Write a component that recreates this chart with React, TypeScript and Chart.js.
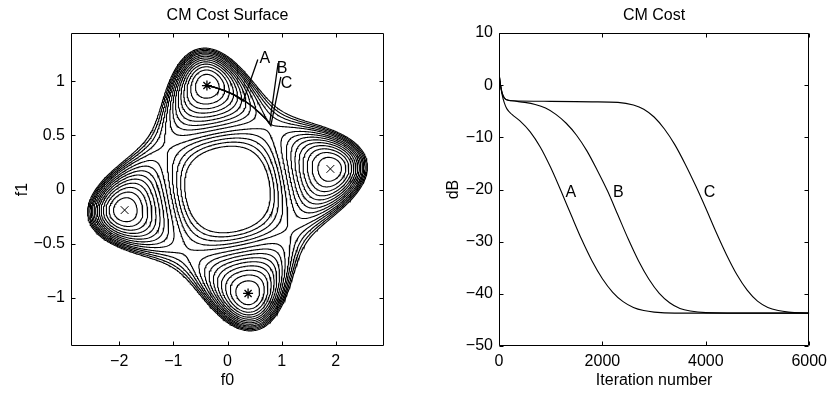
import React, { useEffect, useRef } from 'react';
import { Chart, registerables } from 'chart.js';

Chart.register(...registerables);
Chart.defaults.font.family = '"Liberation Sans", Arial, Helvetica, sans-serif';
Chart.defaults.font.size = 16;
Chart.defaults.color = '#000';

// ---------------- Left panel: CM cost surface ----------------
// minima of the surface (each also appears mirrored through the origin)
const starMinimum = [-0.38, 0.96]; // global minima, marked "*"
const crossMinimum = [1.9, 0.19]; // local minima, marked "x"
const contourLevels = [0.05, 0.1, 0.15, 0.2, 0.25, 0.3, 0.35, 0.4, 0.45, 0.505, 0.55, 0.6, 0.65, 0.7];
const f0Range = [-2.89, 2.89];
const f1Range = [-1.445, 1.445];
const f0Ticks = [-2, -1, 0, 1, 2];
const f1Ticks = [-1, -0.5, 0, 0.5, 1];

// adaptation trajectories (f0, f1)
const trajA_f0 = [0.56, 0.29, 0.116, -0.07, -0.25, -0.38];
const trajA_f1 = [1.2, 0.815, 0.876, 0.916, 0.946, 0.96];
const trajB_f0 = [0.935, 0.78, 0.72, 0.61, 0.456, 0.3, 0.116, -0.07, -0.25, -0.38];
const trajB_f1 = [1.168, 0.615, 0.645, 0.7, 0.769, 0.824, 0.876, 0.916, 0.946, 0.96];
const trajC_f0 = [0.985, 0.8, 0.72, 0.61, 0.456, 0.3, 0.116, -0.07, -0.25, -0.38];
const trajC_f1 = [1.04, 0.59, 0.645, 0.7, 0.769, 0.824, 0.876, 0.916, 0.946, 0.96];

const labelNames = ['A', 'B', 'C'];
const leftLabelF0 = [0.69, 1.01, 1.09];
const leftLabelF1 = [1.21, 1.12, 0.98];

// ---------------- Right panel: CM cost vs iteration ----------------
const iterA = [0, 25, 60, 100, 150, 250, 400, 600, 800, 1000, 1200, 1400, 1600, 1800, 2000, 2200, 2400, 2600, 2800, 3000, 3400, 4000, 5000, 6000];
const costA = [2.3, 0.3, -1.8, -3.3, -4.5, -5.6, -6.8, -8.9, -11.9, -15.8, -20.3, -25.0, -29.6, -33.7, -37.1, -39.7, -41.5, -42.6, -43.2, -43.5, -43.7, -43.7, -43.7, -43.7];
const iterB = [0, 25, 60, 100, 150, 250, 500, 700, 900, 1100, 1300, 1500, 1700, 1900, 2100, 2300, 2500, 2700, 2900, 3100, 3300, 3500, 3700, 4000, 5000, 6000];
const costB = [2.3, 0.3, -1.5, -2.4, -2.8, -3.0, -3.3, -3.7, -4.4, -5.6, -7.3, -9.6, -12.6, -16.3, -20.3, -24.9, -29.5, -33.7, -37.2, -39.9, -41.7, -42.8, -43.3, -43.6, -43.7, -43.7];
const iterC = [0, 25, 60, 100, 150, 250, 1000, 1800, 2300, 2600, 2800, 3000, 3200, 3400, 3600, 3800, 4000, 4200, 4400, 4600, 4800, 5000, 5200, 5400, 5600, 6000];
const costC = [2.3, 0.3, -1.5, -2.4, -2.8, -3.0, -3.1, -3.2, -3.3, -3.8, -4.6, -6.1, -8.4, -11.4, -15.1, -19.2, -23.6, -28.2, -32.5, -36.3, -39.3, -41.4, -42.6, -43.2, -43.5, -43.7];
const iterTicks = [0, 2000, 4000, 6000];
const dbTicks = [-50, -40, -30, -20, -10, 0, 10];
const rightLabelIter = [1390, 2310, 4070];
const rightLabelDb = [-20.5, -20.5, -20.5];

type Pt = { x: number; y: number };

const GRID_NX = 360;
const GRID_NY = 180;

// Constant-modulus cost (BPSK source) in the combined-response coordinates
function cmCost(f0: number, f1: number): number {
  const a = crossMinimum[0], b = starMinimum[0], c = crossMinimum[1], d = starMinimum[1];
  const det = a * d - b * c;
  const h0 = (d * f0 - b * f1) / det;
  const h1 = (-c * f0 + a * f1) / det;
  const s = h0 * h0 + h1 * h1;
  return 3 * s * s - 2 * (h0 ** 4 + h1 ** 4) - 2 * s + 1;
}

function buildGrid() {
  const xs: number[] = [];
  const ys: number[] = [];
  for (let i = 0; i <= GRID_NX; i++) xs.push(f0Range[0] + (i * (f0Range[1] - f0Range[0])) / GRID_NX);
  for (let j = 0; j <= GRID_NY; j++) ys.push(f1Range[0] + (j * (f1Range[1] - f1Range[0])) / GRID_NY);
  const values = new Float64Array((GRID_NX + 1) * (GRID_NY + 1));
  for (let j = 0; j <= GRID_NY; j++)
    for (let i = 0; i <= GRID_NX; i++) values[j * (GRID_NX + 1) + i] = cmCost(xs[i], ys[j]);
  return { xs, ys, values };
}

function traceContours(level: number, xs: number[], ys: number[], values: Float64Array): Pt[][] {
  const NX = GRID_NX, NY = GRID_NY, W = NX + 1;
  const val = (i: number, j: number) => values[j * W + i];
  const vBase = (NY + 1) * NX;
  const adj = new Map<number, number[]>();
  const pos = new Map<number, Pt>();
  const edgePt = (id: number): Pt => {
    const got = pos.get(id);
    if (got) return got;
    let x: number, y: number;
    if (id < vBase) {
      const j = Math.floor(id / NX), i = id % NX;
      const a = val(i, j), b = val(i + 1, j);
      const t = (level - a) / (b - a);
      x = xs[i] + t * (xs[i + 1] - xs[i]);
      y = ys[j];
    } else {
      const k = id - vBase;
      const j = Math.floor(k / W), i = k % W;
      const a = val(i, j), b = val(i, j + 1);
      const t = (level - a) / (b - a);
      x = xs[i];
      y = ys[j] + t * (ys[j + 1] - ys[j]);
    }
    const p = { x, y };
    pos.set(id, p);
    return p;
  };
  const add = (a: number, b: number) => {
    let l = adj.get(a);
    if (!l) { l = []; adj.set(a, l); }
    l.push(b);
  };
  const link = (a: number, b: number) => { add(a, b); add(b, a); };
  for (let j = 0; j < NY; j++) {
    for (let i = 0; i < NX; i++) {
      const v0 = val(i, j), v1 = val(i + 1, j), v2 = val(i + 1, j + 1), v3 = val(i, j + 1);
      const c = (v0 > level ? 1 : 0) | (v1 > level ? 2 : 0) | (v2 > level ? 4 : 0) | (v3 > level ? 8 : 0);
      if (c === 0 || c === 15) continue;
      const B = j * NX + i, T = (j + 1) * NX + i, L = vBase + j * W + i, R = vBase + j * W + i + 1;
      if (c === 5 || c === 10) {
        const above = (v0 + v1 + v2 + v3) / 4 > level;
        if ((c === 5) === above) { link(B, R); link(L, T); } else { link(B, L); link(R, T); }
        continue;
      }
      const b0 = c & 1, b1 = (c >> 1) & 1, b2 = (c >> 2) & 1, b3 = (c >> 3) & 1;
      const e: number[] = [];
      if (b0 !== b1) e.push(B);
      if (b1 !== b2) e.push(R);
      if (b2 !== b3) e.push(T);
      if (b3 !== b0) e.push(L);
      if (e.length === 2) link(e[0], e[1]);
    }
  }
  const visited = new Set<number>();
  const lines: Pt[][] = [];
  const walk = (start: number) => {
    const line: Pt[] = [];
    let prev = -1, cur = start, last = start;
    while (cur !== -1 && !visited.has(cur)) {
      visited.add(cur);
      line.push(edgePt(cur));
      last = cur;
      let next = -1;
      for (const n of adj.get(cur)!) if (n !== prev && !visited.has(n)) { next = n; break; }
      prev = cur;
      cur = next;
    }
    if (line.length > 2 && adj.get(last)!.includes(start)) line.push(line[0]);
    if (line.length > 1) lines.push(line);
  };
  adj.forEach((nb, id) => { if (nb.length === 1 && !visited.has(id)) walk(id); });
  adj.forEach((_nb, id) => { if (!visited.has(id)) walk(id); });
  return lines;
}

const fmt = (v: number | string) => {
  const n = Number(v);
  return n < 0 ? '\u2212' + String(Math.abs(n)) : String(n);
};

const framePlugin = {
  id: 'frameTicks',
  afterDatasetsDraw(chart: any) {
    const { ctx, chartArea, scales } = chart;
    const l = Math.round(chartArea.left) + 0.5;
    const r = Math.round(chartArea.right) - 0.5;
    const t = Math.round(chartArea.top) + 0.5;
    const b = Math.round(chartArea.bottom) - 0.5;
    const len = 4;
    ctx.save();
    ctx.strokeStyle = '#000';
    ctx.lineWidth = 1;
    ctx.beginPath();
    ctx.rect(l, t, r - l, b - t);
    scales.x.ticks.forEach((tk: any) => {
      const px = Math.round(scales.x.getPixelForValue(tk.value)) + 0.5;
      ctx.moveTo(px, b); ctx.lineTo(px, b - len);
      ctx.moveTo(px, t); ctx.lineTo(px, t + len);
    });
    scales.y.ticks.forEach((tk: any) => {
      const py = Math.round(scales.y.getPixelForValue(tk.value)) + 0.5;
      ctx.moveTo(l, py); ctx.lineTo(l + len, py);
      ctx.moveTo(r, py); ctx.lineTo(r - len, py);
    });
    ctx.stroke();
    ctx.restore();
  },
};

function labelsPlugin(xs: number[], ys: number[]) {
  return {
    id: 'curveLabels',
    afterDatasetsDraw(chart: any) {
      const { ctx, scales } = chart;
      ctx.save();
      ctx.fillStyle = '#000';
      ctx.font = '16px "Liberation Sans", Arial, Helvetica, sans-serif';
      ctx.textAlign = 'center';
      ctx.textBaseline = 'middle';
      labelNames.forEach((name, i) => {
        ctx.fillText(name, scales.x.getPixelForValue(xs[i]), scales.y.getPixelForValue(ys[i]));
      });
      ctx.restore();
    },
  };
}

function axisCommon(ticksArr: number[], size: { w?: number; h?: number }, title: string, titlePad: any) {
  return {
    type: 'linear' as const,
    afterBuildTicks: (ax: any) => { ax.ticks = ticksArr.map((v) => ({ value: v })); },
    afterFit: (ax: any) => {
      if (size.w !== undefined) ax.width = size.w;
      if (size.h !== undefined) ax.height = size.h;
    },
    ticks: { padding: 6, autoSkip: false, maxRotation: 0, minRotation: 0, callback: (v: any) => fmt(v), color: '#000' },
    grid: { display: false, drawTicks: false },
    border: { display: false },
    title: { display: true, text: title, padding: titlePad, color: '#000', font: { size: 16 } },
  };
}

const toPts = (xs: number[], ys: number[]) => xs.map((x, i) => ({ x, y: ys[i] }));

function leftConfig(): any {
  const { xs, ys, values } = buildGrid();
  const contourSets: any[] = [];
  contourLevels.forEach((lev) => {
    traceContours(lev, xs, ys, values).forEach((line) => {
      contourSets.push({
        data: line,
        showLine: true,
        borderColor: '#000',
        borderWidth: 1.1,
        pointRadius: 0,
        tension: 0,
        fill: false,
      });
    });
  });
  const trajSets = [
    toPts(trajA_f0, trajA_f1),
    toPts(trajB_f0, trajB_f1),
    toPts(trajC_f0, trajC_f1),
  ].map((data) => ({ data, showLine: true, borderColor: '#000', borderWidth: 1.3, pointRadius: 0, tension: 0, fill: false }));
  const markerSets = [
    {
      data: [{ x: starMinimum[0], y: starMinimum[1] }, { x: -starMinimum[0], y: -starMinimum[1] }],
      pointStyle: 'star', pointRadius: 5, borderColor: '#000', backgroundColor: 'rgba(0,0,0,0)', borderWidth: 1.3, showLine: false,
    },
    {
      data: [{ x: crossMinimum[0], y: crossMinimum[1] }, { x: -crossMinimum[0], y: -crossMinimum[1] }],
      pointStyle: 'crossRot', pointRadius: 5.5, borderColor: '#000', backgroundColor: 'rgba(0,0,0,0)', borderWidth: 1, showLine: false,
    },
  ];
  return {
    type: 'scatter',
    data: { datasets: [...markerSets, ...trajSets, ...contourSets] },
    options: {
      responsive: false,
      animation: false,
      events: [],
      layout: { padding: { left: 0, right: 36, top: 0, bottom: 0 } },
      plugins: {
        legend: { display: false },
        tooltip: { enabled: false },
        title: { display: true, text: 'CM Cost Surface', fullSize: false, color: '#000', font: { size: 16, weight: 'normal' }, padding: { top: 6, bottom: 7.8 } },
      },
      scales: {
        x: { ...axisCommon(f0Ticks, { h: 48 }, 'f0', { top: 0, bottom: 4 }), min: f0Range[0], max: f0Range[1] },
        y: { ...axisCommon(f1Ticks, { w: 71 }, 'f1', { top: 13, bottom: 0 }), min: f1Range[0], max: f1Range[1] },
      },
    },
    plugins: [framePlugin, labelsPlugin(leftLabelF0, leftLabelF1)],
  };
}

function rightConfig(): any {
  const series = [toPts(iterA, costA), toPts(iterB, costB), toPts(iterC, costC)];
  return {
    type: 'line',
    data: {
      datasets: series.map((data) => ({
        data, borderColor: '#000', borderWidth: 1.1, pointRadius: 0, fill: false, cubicInterpolationMode: 'monotone',
      })),
    },
    options: {
      responsive: false,
      animation: false,
      events: [],
      layout: { padding: { left: 0, right: 21, top: 0, bottom: 0 } },
      plugins: {
        legend: { display: false },
        tooltip: { enabled: false },
        title: { display: true, text: 'CM Cost', fullSize: false, color: '#000', font: { size: 16, weight: 'normal' }, padding: { top: 6, bottom: 7.8 } },
      },
      scales: {
        x: { ...axisCommon(iterTicks, { h: 48 }, 'Iteration number', { top: 0, bottom: 4 }), min: 0, max: 6000 },
        y: { ...axisCommon(dbTicks, { w: 79 }, 'dB', { top: 24, bottom: 0 }), min: -50, max: 10 },
      },
    },
    plugins: [framePlugin, labelsPlugin(rightLabelIter, rightLabelDb)],
  };
}

export default function App() {
  const leftRef = useRef<HTMLCanvasElement>(null);
  const rightRef = useRef<HTMLCanvasElement>(null);
  useEffect(() => {
    const left = new Chart(leftRef.current as HTMLCanvasElement, leftConfig());
    const right = new Chart(rightRef.current as HTMLCanvasElement, rightConfig());
    return () => {
      left.destroy();
      right.destroy();
    };
  }, []);
  return (
    <div style={{ position: 'fixed', left: 0, top: 0, width: 833, height: 394, background: '#fff' }}>
      <canvas ref={leftRef} width={420} height={394} style={{ position: 'absolute', left: 0, top: 0 }} />
      <canvas ref={rightRef} width={413} height={394} style={{ position: 'absolute', left: 420, top: 0 }} />
    </div>
  );
}
